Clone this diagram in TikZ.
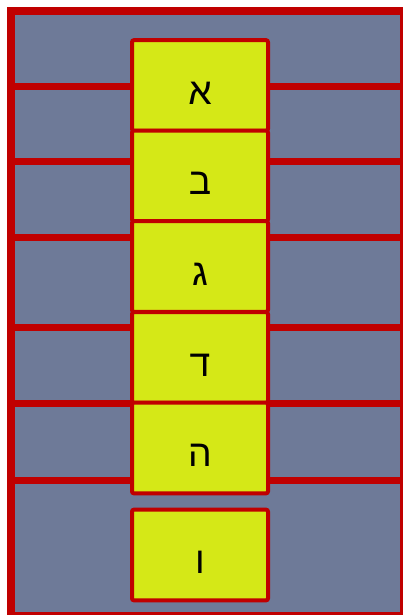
\documentclass[tikz,border=0pt]{standalone}
\usepackage{fontspec}
\setmainfont{Liberation Sans}
\newfontfamily\hebfont[Script=Hebrew]{Liberation Sans}
\TeXXeTstate=1
\definecolor{slate}{HTML}{6E7A98}
\definecolor{frame}{HTML}{C00000}
\definecolor{cellfill}{HTML}{D5E817}

\begin{document}
\begin{tikzpicture}[x=0.75pt, y=-0.75pt,
  cell/.style={draw=frame, fill=cellfill, line width=3pt, rounded corners=1.5pt,
    minimum width=102pt, minimum height=68pt, inner sep=0pt,
    font=\hebfont\fontsize{28}{30}\selectfont, text height=27.75pt, text depth=0pt},
  bar/.style={draw=frame, line width=5.25pt}]
  \useasboundingbox (0,0) rectangle (403,615);
  \clip (0,0) rectangle (403,615);
  % outer frame
  \draw[fill=slate, draw=frame, line width=6pt] (11,11) rectangle (404,616);
  % shelves
  \foreach \y in {86,161,237,327,403,480}
    \draw[bar] (11,\y) -- (404,\y);
  % letters
  \node[cell] (alef)  at (200,85.5)  {\beginR א\endR};
  \node[cell] (bet)   at (200,176)   {\beginR ב\endR};
  \node[cell] (gimel) at (200,266.5) {\beginR ג\endR};
  \node[cell] (dalet) at (200,357.5) {\beginR ד\endR};
  \node[cell] (he)    at (200,448)   {\beginR ה\endR};
  \node[cell] (vav)   at (200,555)   {\beginR ו\endR};
\end{tikzpicture}
\end{document}
